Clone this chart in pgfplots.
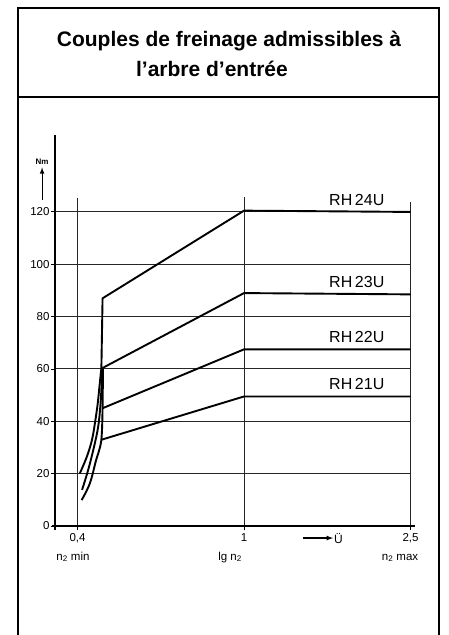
\documentclass[border=0pt]{standalone}
\usepackage{pgfplots}
\pgfplotsset{compat=1.18}
\usepackage{fontspec}
\setmainfont{Liberation Sans}
\begin{document}
\begin{tikzpicture}
\path[use as bounding box] (0pt,0pt) rectangle (448pt,635pt);
\draw[line width=2pt] (18pt,-2pt) -- (18pt,627pt) -- (439pt,627pt) -- (439pt,-2pt);
\draw[line width=1.6pt] (18pt,538pt) -- (439pt,538pt);
\node[font=\bfseries\fontsize{21}{25}\selectfont, anchor=base] at (229pt,588pt) {Couples de freinage admissibles à};
\node[font=\bfseries\fontsize{21}{25}\selectfont, anchor=base] at (212pt,558pt) {l’arbre d’entrée};
\begin{axis}[
  at={(55pt,109pt)}, anchor=south west,
  scale only axis, width=365pt, height=391pt,
  xmode=log, xmin=0.3533, xmax=2.634, ymin=0, ymax=149.4,
  clip=false, axis line style={draw=none},
  xtick={0.4,1,2.5}, xticklabels={0{,}4,1,2{,}5}, minor xtick={},
  ytick={0,20,...,120},
  /pgf/number format/assume math mode=true,
  tick style={black, line width=0.9pt},
  xtick pos=bottom, ytick pos=left,
  tick align=outside, major tick length=4pt,
  ticklabel style={font=\fontsize{11.5}{12}\selectfont},
  yticklabel style={xshift=2pt},
  every axis plot post/.append style={black, solid, mark=none, line width=1.9pt, line join=round},
]
\pgfplotsinvokeforeach{20,40,...,120}{
  \draw[black!85, line width=1pt] (axis cs:0.3533,#1) -- (axis cs:2.5,#1);
}
\draw[black!85, line width=1pt] (axis cs:0.4,0) -- (axis cs:0.4,125.3);
\draw[black!85, line width=1pt] (axis cs:1,0) -- (axis cs:1,125.7);
\draw[black!85, line width=1pt] (axis cs:2.5,0) -- (axis cs:2.5,123.8);
\draw[line width=1.5pt] (axis cs:0.3475,0) -- (axis cs:2.563,0);
\draw[line width=1.3pt] (axis cs:0.3533,-1.5) -- (axis cs:0.3533,149.4);
% steep curved parts
\addplot[smooth, tension=0.6] coordinates {(0.405,20.1) (0.421,26.5) (0.433,32.9) (0.440,39.2) (0.447,46.9) (0.452,54.5) (0.456,60.3)};
\addplot[smooth, tension=0.6] coordinates {(0.410,13.8) (0.424,21.4) (0.438,30.3) (0.448,37.9) (0.453,45) (0.456,52) (0.458,60)};
\addplot[smooth, tension=0.6] coordinates {(0.409,9.9) (0.428,16.3) (0.443,25.2) (0.453,30.3) (0.457,35) (0.459,45) (0.460,60)};
% RH24U
\addplot coordinates {(0.456,60.3) (0.459,87) (1,120.5) (2.5,120)};
% RH23U
\addplot coordinates {(0.458,60.3) (1,89) (2.5,88.5)};
% RH22U
\addplot coordinates {(0.459,45) (1,67.5) (2.5,67.5)};
% RH21U
\addplot coordinates {(0.457,33) (1,49.5) (2.5,49.5)};
% labels
\node[anchor=base, inner sep=0, font=\fontsize{16}{18}\selectfont] at (axis cs:1.86,122.5) {RH\,24U};
\node[anchor=base, inner sep=0, font=\fontsize{16}{18}\selectfont] at (axis cs:1.86,91) {RH\,23U};
\node[anchor=base, inner sep=0, font=\fontsize{16}{18}\selectfont] at (axis cs:1.86,70) {RH\,22U};
\node[anchor=base, inner sep=0, font=\fontsize{16}{18}\selectfont] at (axis cs:1.86,52) {RH\,21U};
\draw[-latex, line width=1.1pt] (axis cs:0.329,124.6) -- (axis cs:0.329,137);
\node[font=\bfseries\fontsize{8}{9}\selectfont, anchor=base] at (axis cs:0.329,138) {Nm};
\draw[-latex, line width=1.2pt] (axis cs:1.384,-4.6) -- (axis cs:1.632,-4.6);
\node[anchor=west, inner sep=1pt, font=\fontsize{12}{13}\selectfont] at (axis cs:1.632,-4.6) {Ü};
\node[anchor=base, font=\fontsize{11.5}{12}\selectfont] at (axis cs:0.390,-13) {n\textsubscript{2} min};
\node[anchor=base, font=\fontsize{11.5}{12}\selectfont] at (axis cs:0.926,-13) {lg n\textsubscript{2}};
\node[anchor=base, font=\fontsize{11.5}{12}\selectfont] at (axis cs:2.36,-13) {n\textsubscript{2} max};
\end{axis}
\end{tikzpicture}
\end{document}
